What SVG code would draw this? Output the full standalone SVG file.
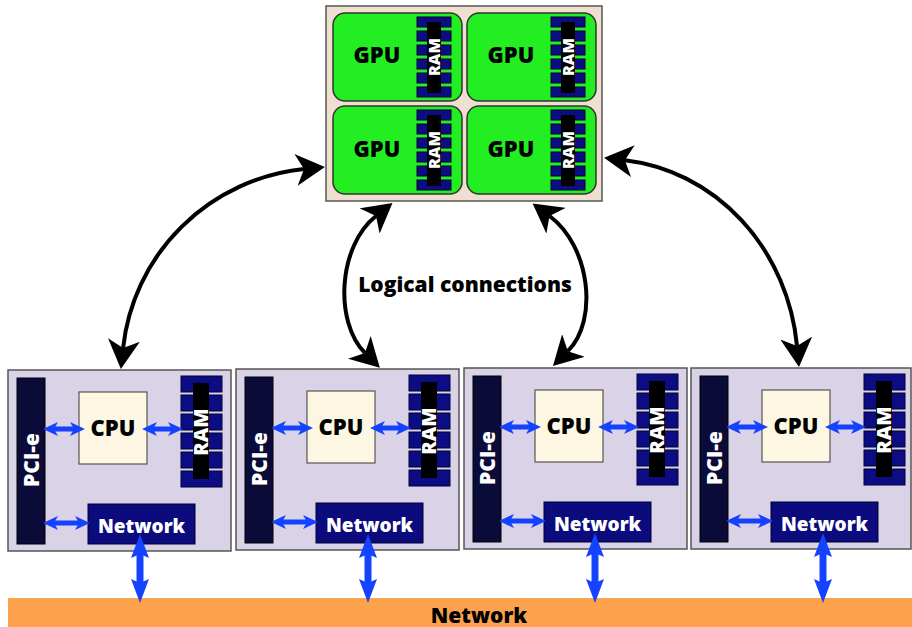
<svg xmlns="http://www.w3.org/2000/svg" width="912" height="627" viewBox="0 0 912 627">
<defs>
<style>
.t{font-family:"Open Sans","Liberation Sans",sans-serif;font-weight:800;text-anchor:middle}
.k{fill:#000}
.w{fill:#fff}
.gpubox{fill:#efdfcf;stroke:#555;stroke-width:1.5}
.tile{fill:#22ee22;stroke:#333;stroke-width:1.5}
.pad{fill:#0c0c85;stroke:#000030;stroke-width:1}
.bar{fill:#000}
.host{fill:#dad2e6;stroke:#555;stroke-width:1.5}
.pci{fill:#0b0b3a;stroke:#000;stroke-width:1}
.cpu{fill:#fdf6e2;stroke:#555;stroke-width:1.2}
.net{fill:#0b0b7e;stroke:#000030;stroke-width:1}
.nbar{fill:#fca24c}
.blk{fill:none;stroke:#000;stroke-width:4;marker-start:url(#bk);marker-end:url(#bk)}
.blu{fill:none;stroke:#1442ff;stroke-width:5;marker-start:url(#bs);marker-end:url(#bs)}
.bluv{fill:none;stroke:#1442ff;stroke-width:7;marker-start:url(#bv);marker-end:url(#bv)}
</style>
<marker id="bk" markerUnits="userSpaceOnUse" viewBox="0 -16 30 32" markerWidth="30" markerHeight="32" refX="8" refY="0" orient="auto-start-reverse"><path d="M0,-16 L29,0 L0,16 L8,0 Z" fill="#000"/></marker>
<marker id="bs" markerUnits="userSpaceOnUse" viewBox="0 -8 16 16" markerWidth="16" markerHeight="16" refX="4" refY="0" orient="auto-start-reverse"><path d="M0,-7 L15,0 L0,7 L4,0 Z" fill="#1442ff"/></marker>
<marker id="bv" markerUnits="userSpaceOnUse" viewBox="0 -10 25 20" markerWidth="25" markerHeight="20" refX="4" refY="0" orient="auto-start-reverse"><path d="M0,-9 L24,0 L0,9 L4,0 Z" fill="#1442ff"/></marker>
</defs>
<rect width="912" height="627" fill="#fff"/>

<g id="gpu-cluster">
<rect class="gpubox" x="326" y="6" width="276" height="195"/>
<g id="gpu1" transform="translate(333,13)">
<rect class="tile" width="129" height="88" rx="12"/>
<rect class="pad" x="84" y="4" width="34" height="10"/><rect class="pad" x="84" y="18" width="34" height="10"/><rect class="pad" x="84" y="32" width="34" height="10"/><rect class="pad" x="84" y="46" width="34" height="10"/><rect class="pad" x="84" y="60" width="34" height="10"/><rect class="pad" x="84" y="74" width="34" height="10"/>
<rect class="bar" x="94" y="9" width="14" height="71"/>
<text class="t k" x="44" y="50" font-size="22">GPU</text>
<text class="t w" transform="translate(101,44) rotate(-90)" y="6" font-size="16">RAM</text>
</g>
<g id="gpu2" transform="translate(467,13)">
<rect class="tile" width="129" height="88" rx="12"/>
<rect class="pad" x="84" y="4" width="34" height="10"/><rect class="pad" x="84" y="18" width="34" height="10"/><rect class="pad" x="84" y="32" width="34" height="10"/><rect class="pad" x="84" y="46" width="34" height="10"/><rect class="pad" x="84" y="60" width="34" height="10"/><rect class="pad" x="84" y="74" width="34" height="10"/>
<rect class="bar" x="94" y="9" width="14" height="71"/>
<text class="t k" x="44" y="50" font-size="22">GPU</text>
<text class="t w" transform="translate(101,44) rotate(-90)" y="6" font-size="16">RAM</text>
</g>
<g id="gpu3" transform="translate(333,106)">
<rect class="tile" width="129" height="88" rx="12"/>
<rect class="pad" x="84" y="4" width="34" height="10"/><rect class="pad" x="84" y="18" width="34" height="10"/><rect class="pad" x="84" y="32" width="34" height="10"/><rect class="pad" x="84" y="46" width="34" height="10"/><rect class="pad" x="84" y="60" width="34" height="10"/><rect class="pad" x="84" y="74" width="34" height="10"/>
<rect class="bar" x="94" y="9" width="14" height="71"/>
<text class="t k" x="44" y="51" font-size="22">GPU</text>
<text class="t w" transform="translate(101,44) rotate(-90)" y="6" font-size="16">RAM</text>
</g>
<g id="gpu4" transform="translate(467,106)">
<rect class="tile" width="129" height="88" rx="12"/>
<rect class="pad" x="84" y="4" width="34" height="10"/><rect class="pad" x="84" y="18" width="34" height="10"/><rect class="pad" x="84" y="32" width="34" height="10"/><rect class="pad" x="84" y="46" width="34" height="10"/><rect class="pad" x="84" y="60" width="34" height="10"/><rect class="pad" x="84" y="74" width="34" height="10"/>
<rect class="bar" x="94" y="9" width="14" height="71"/>
<text class="t k" x="44" y="51" font-size="22">GPU</text>
<text class="t w" transform="translate(101,44) rotate(-90)" y="6" font-size="16">RAM</text>
</g>
</g>

<g id="host1" transform="translate(8,370)">
<rect class="host" width="223" height="181"/>
<rect class="pci" x="9" y="8" width="28" height="166"/>
<text class="t w" transform="translate(23,90) rotate(-90)" y="7.5" font-size="21">PCI-e</text>
<rect class="cpu" x="71" y="22" width="68" height="72"/>
<text class="t k" x="105" y="66" font-size="22">CPU</text>
<rect class="pad" x="173" y="6" width="41" height="16"/><rect class="pad" x="173" y="25" width="41" height="16"/><rect class="pad" x="173" y="44" width="41" height="16"/><rect class="pad" x="173" y="63" width="41" height="16"/><rect class="pad" x="173" y="82" width="41" height="16"/><rect class="pad" x="173" y="101" width="41" height="16"/>
<rect class="bar" x="185" y="13" width="16" height="96"/>
<text class="t w" transform="translate(193,62) rotate(-90)" y="7" font-size="20">RAM</text>
<rect class="net" x="80" y="134" width="107" height="40"/>
<text class="t w" x="133.5" y="163" font-size="19">Network</text>
</g>
<g id="host2" transform="translate(236,369)">
<rect class="host" width="223" height="181"/>
<rect class="pci" x="9" y="8" width="28" height="166"/>
<text class="t w" transform="translate(23,90) rotate(-90)" y="7.5" font-size="21">PCI-e</text>
<rect class="cpu" x="71" y="22" width="68" height="72"/>
<text class="t k" x="105" y="66" font-size="22">CPU</text>
<rect class="pad" x="173" y="6" width="41" height="16"/><rect class="pad" x="173" y="25" width="41" height="16"/><rect class="pad" x="173" y="44" width="41" height="16"/><rect class="pad" x="173" y="63" width="41" height="16"/><rect class="pad" x="173" y="82" width="41" height="16"/><rect class="pad" x="173" y="101" width="41" height="16"/>
<rect class="bar" x="185" y="13" width="16" height="96"/>
<text class="t w" transform="translate(193,62) rotate(-90)" y="7" font-size="20">RAM</text>
<rect class="net" x="80" y="134" width="107" height="40"/>
<text class="t w" x="133.5" y="163" font-size="19">Network</text>
</g>
<g id="host3" transform="translate(464,368)">
<rect class="host" width="223" height="181"/>
<rect class="pci" x="9" y="8" width="28" height="166"/>
<text class="t w" transform="translate(23,90) rotate(-90)" y="7.5" font-size="21">PCI-e</text>
<rect class="cpu" x="71" y="22" width="68" height="72"/>
<text class="t k" x="105" y="66" font-size="22">CPU</text>
<rect class="pad" x="173" y="6" width="41" height="16"/><rect class="pad" x="173" y="25" width="41" height="16"/><rect class="pad" x="173" y="44" width="41" height="16"/><rect class="pad" x="173" y="63" width="41" height="16"/><rect class="pad" x="173" y="82" width="41" height="16"/><rect class="pad" x="173" y="101" width="41" height="16"/>
<rect class="bar" x="185" y="13" width="16" height="96"/>
<text class="t w" transform="translate(193,62) rotate(-90)" y="7" font-size="20">RAM</text>
<rect class="net" x="80" y="134" width="107" height="40"/>
<text class="t w" x="133.5" y="163" font-size="19">Network</text>
</g>
<g id="host4" transform="translate(691,368)">
<rect class="host" width="220" height="181"/>
<rect class="pci" x="9" y="8" width="28" height="166"/>
<text class="t w" transform="translate(23,90) rotate(-90)" y="7.5" font-size="21">PCI-e</text>
<rect class="cpu" x="71" y="22" width="68" height="72"/>
<text class="t k" x="105" y="66" font-size="22">CPU</text>
<rect class="pad" x="173" y="6" width="41" height="16"/><rect class="pad" x="173" y="25" width="41" height="16"/><rect class="pad" x="173" y="44" width="41" height="16"/><rect class="pad" x="173" y="63" width="41" height="16"/><rect class="pad" x="173" y="82" width="41" height="16"/><rect class="pad" x="173" y="101" width="41" height="16"/>
<rect class="bar" x="185" y="13" width="16" height="96"/>
<text class="t w" transform="translate(193,62) rotate(-90)" y="7" font-size="20">RAM</text>
<rect class="net" x="80" y="134" width="107" height="40"/>
<text class="t w" x="133.5" y="163" font-size="19">Network</text>
</g>

<g id="network-bar">
<rect class="nbar" x="8" y="598" width="904" height="29"/>
<text class="t k" x="479" y="623" font-size="21">Network</text>
</g>

<g id="connectors">
<path class="blk" d="M304,169.1 A203 201 0 0 0 123.1,348"/>
<path class="blk" d="M376,216 C338,246 334,322 365,353"/>
<path class="blk" d="M549.5,216 C590,246 598.8,320.2 567.8,351.2"/>
<path class="blk" d="M624.9,160.2 A194 208 0 0 1 797,346"/>
<g transform="translate(8,370)"><path class="blu" d="M46,59 H66"/><path class="blu" d="M145,59 H164"/><path class="blu" d="M46,153 H71"/></g>
<g transform="translate(236,369)"><path class="blu" d="M46,59 H66"/><path class="blu" d="M145,59 H164"/><path class="blu" d="M46,153 H71"/></g>
<g transform="translate(464,368)"><path class="blu" d="M46,59 H66"/><path class="blu" d="M145,59 H164"/><path class="blu" d="M46,153 H71"/></g>
<g transform="translate(691,368)"><path class="blu" d="M46,59 H66"/><path class="blu" d="M145,59 H164"/><path class="blu" d="M46,153 H71"/></g>
<path class="bluv" d="M140,554 V583"/>
<path class="bluv" d="M368,554 V583"/>
<path class="bluv" d="M595,553 V583"/>
<path class="bluv" d="M823,553 V583"/>
</g>
<text id="logical-label" class="t k" x="465" y="292" font-size="21">Logical connections</text>
</svg>
